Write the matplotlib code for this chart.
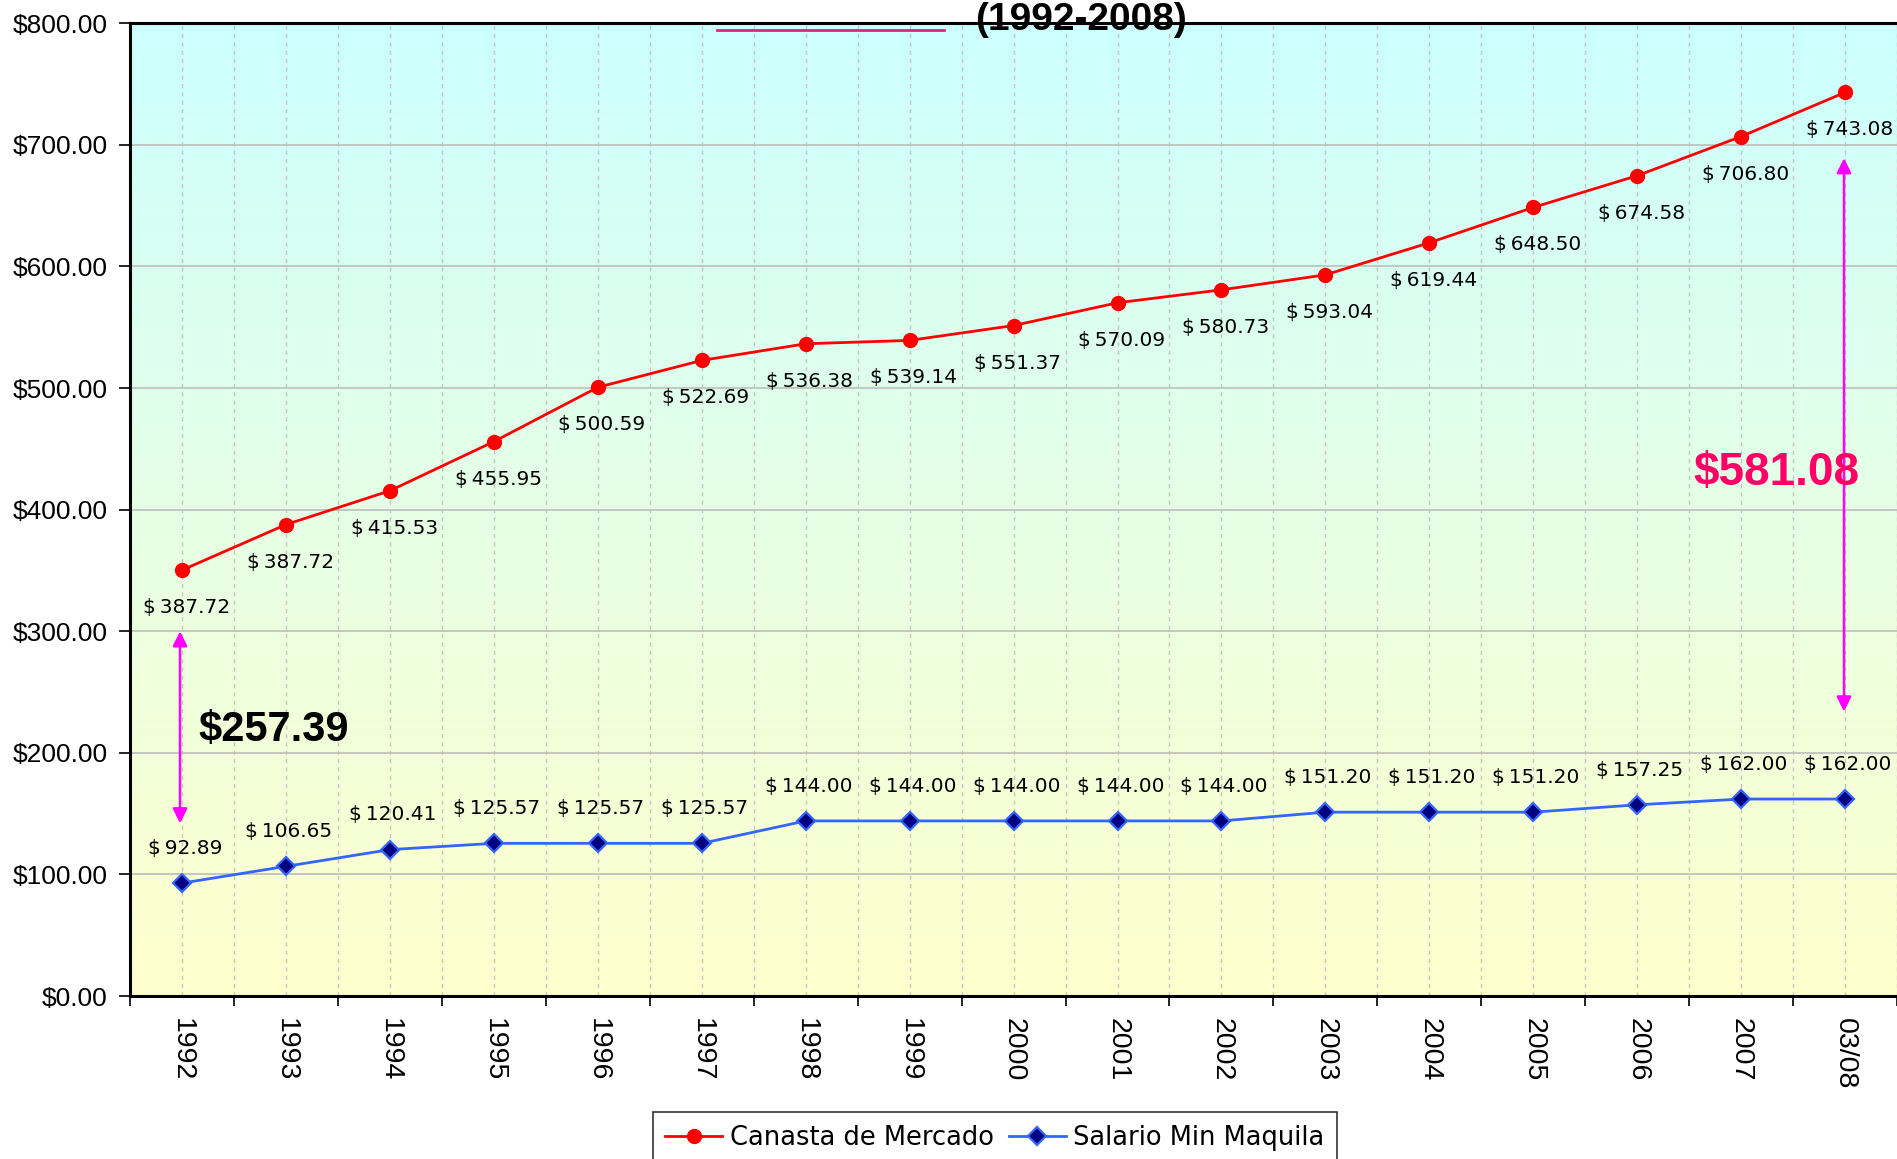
import numpy as np
import matplotlib
matplotlib.use("Agg")
import matplotlib.pyplot as plt
from matplotlib.lines import Line2D
from matplotlib.ticker import MultipleLocator, FuncFormatter
import matplotlib.colors as clrs

years = ["1992", "1993", "1994", "1995", "1996", "1997", "1998", "1999", "2000",
         "2001", "2002", "2003", "2004", "2005", "2006", "2007", "03/08"]
canasta = [350.28, 387.72, 415.53, 455.95, 500.59, 522.69, 536.38, 539.14, 551.37,
           570.09, 580.73, 593.04, 619.44, 648.50, 674.58, 706.80, 743.08]
canasta_labels = ["387.72", "387.72", "415.53", "455.95", "500.59", "522.69", "536.38",
                  "539.14", "551.37", "570.09", "580.73", "593.04", "619.44", "648.50",
                  "674.58", "706.80", "743.08"]
salario = [92.89, 106.65, 120.41, 125.57, 125.57, 125.57, 144.00, 144.00, 144.00,
           144.00, 144.00, 151.20, 151.20, 151.20, 157.25, 162.00, 162.00]
gap_start = "$257.39"
gap_end = "$581.08"

fig = plt.figure(figsize=(18.97, 11.59), dpi=100)
ax = fig.add_axes([0.0686, 0.1406, 0.9314, 0.8394])

x = np.arange(len(years)) + 0.5

# background gradient cyan -> light yellow
grad = clrs.LinearSegmentedColormap.from_list("bg", ["#FFFFCC", "#CCFFFF"])
ax.imshow(np.linspace(0, 1, 256).reshape(-1, 1), cmap=grad, origin="lower",
          extent=[0, len(years), 0, 800], aspect="auto", zorder=0)

ax.set_xlim(0, len(years))
ax.set_ylim(0, 800)

for xv in np.arange(0, len(years) + 0.01, 0.5):
    ax.axvline(xv, color="#C4C4C4", lw=1, ls=(0, (3, 3)), zorder=1)
for yv in range(100, 800, 100):
    ax.axhline(yv, color="#BDBDBD", lw=1.2, zorder=1)

ax.plot(x, canasta, color="#FF0000", lw=2, marker="o", ms=10,
        mfc="#FF0000", mec="#FF0000", zorder=4, label="Canasta de Mercado")
ax.plot(x, salario, color="#3366FF", lw=2, marker="D", ms=9,
        mfc="#000080", mec="#3366FF", mew=1.6, zorder=4, label="Salario Min Maquila")

for xi, yi, lab in zip(x, canasta, canasta_labels):
    ax.annotate("$\u2009" + lab, (xi, yi), xytext=(3, -27), textcoords="offset points",
                ha="center", va="center", fontsize=14.5, family="DejaVu Sans", zorder=5)
for xi, yi in zip(x, salario):
    ax.annotate("$\u2009%.2f" % yi, (xi, yi), xytext=(2, 25), textcoords="offset points",
                ha="center", va="center", fontsize=14.5, family="DejaVu Sans", zorder=5)

arrow = dict(arrowstyle="<|-|>", color="#FF00FF", lw=1.8, mutation_scale=22,
             shrinkA=0, shrinkB=0)
ax.annotate("", xy=(0.48, 142), xytext=(0.48, 300), arrowprops=arrow, zorder=5)
ax.annotate("", xy=(16.49, 234), xytext=(16.49, 689), arrowprops=arrow, zorder=5)

ax.text(1.38, 219, gap_start, fontsize=30, fontweight="bold", family="Liberation Sans",
        ha="center", va="center", color="black", zorder=6)
ax.text(15.84, 430, gap_end, fontsize=33, fontweight="bold", family="Liberation Sans",
        ha="center", va="center", color="#FF0066", zorder=6)

ax.set_xticks(np.arange(0, len(years) + 1))
ax.set_xticklabels([])
ax.set_xticks(x, minor=True)
ax.set_xticklabels(years, minor=True, rotation=-90, fontsize=20.5,
                   family="Liberation Sans", va="top")
ax.tick_params(axis="x", which="minor", length=0, pad=16)
ax.tick_params(axis="x", which="major", length=7, width=1.2, direction="out")
ax.yaxis.set_major_locator(MultipleLocator(100))
ax.yaxis.set_major_formatter(FuncFormatter(lambda v, p: "$%.2f" % v))
ax.tick_params(axis="y", length=8, width=1.2, labelsize=19, pad=8)
for t in ax.get_yticklabels():
    t.set_family("Liberation Sans")

for side in ["left", "bottom", "top"]:
    ax.spines[side].set_linewidth(2.2)
    ax.spines[side].set_color("black")
ax.spines["right"].set_visible(False)

fig.text(0.5700, 0.974, "(1992-2008)", fontsize=28, fontweight="bold",
         family="Liberation Sans", ha="center", va="baseline")
fig.add_artist(Line2D([717 / 1897, 944 / 1897], [1 - 30 / 1159, 1 - 30 / 1159],
                      color="#E8207A", lw=2, transform=fig.transFigure))

leg = fig.legend(loc="lower center", bbox_to_anchor=(0.5245, -0.015), ncol=2,
                 fontsize=18.5, frameon=True, fancybox=False, edgecolor="black",
                 handlelength=2.2, columnspacing=0.6, handletextpad=0.3,
                 borderpad=0.5)
leg.get_frame().set_linewidth(1.2)

fig.savefig("out.png", dpi=100)
